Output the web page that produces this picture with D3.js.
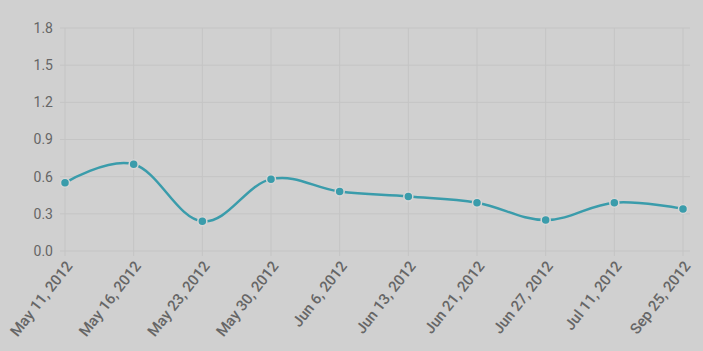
<!DOCTYPE html>
<html>
<head>
<meta charset="utf-8">
<script src="https://cdn.jsdelivr.net/npm/d3@7"></script>
<style>
body{margin:0;background:#d0d0d0;}
svg{display:block;}
</style>
</head>
<body>
<div id="chart"></div>
<script>
var labels = ["May 11, 2012","May 16, 2012","May 23, 2012","May 30, 2012","Jun 6, 2012","Jun 13, 2012","Jun 21, 2012","Jun 27, 2012","Jul 11, 2012","Sep 25, 2012"];
var values = [0.55, 0.70, 0.24, 0.58, 0.48, 0.44, 0.39, 0.25, 0.39, 0.34];
var yTicks = [0, 0.3, 0.6, 0.9, 1.2, 1.5, 1.8];

var width = 703, height = 351;
var svg = d3.select("#chart").append("svg")
	.attr("width", width)
	.attr("height", height);

svg.append("rect").attr("width", width).attr("height", height).attr("fill", "#d0d0d0");

var x = d3.scalePoint()
	.domain(labels)
	.range([65, 683]);
var y = d3.scaleLinear()
	.domain([0, 1.8])
	.range([251, 28]);

var grid = "#c4c4c4";

// horizontal grid
svg.selectAll("line.hg").data(yTicks).enter()
	.append("line")
	.attr("x1", 60).attr("x2", 690)
	.attr("y1", function(d){ return y(d); })
	.attr("y2", function(d){ return y(d); })
	.attr("stroke", grid).attr("stroke-width", 1);

// vertical grid
svg.selectAll("line.vg").data(labels).enter()
	.append("line")
	.attr("x1", function(d){ return x(d); })
	.attr("x2", function(d){ return x(d); })
	.attr("y1", 28).attr("y2", 256)
	.attr("stroke", grid).attr("stroke-width", 1);

// y labels
svg.selectAll("text.yl").data(yTicks).enter()
	.append("text")
	.attr("x", 53)
	.attr("y", function(d){ return y(d); })
	.attr("dy", "0.35em")
	.attr("text-anchor", "end")
	.attr("font-family", "Roboto, sans-serif")
	.attr("font-size", 14)
	.attr("fill", "#666")
	.text(function(d){ return d.toFixed(1); });

// x labels
svg.selectAll("text.xl").data(labels).enter()
	.append("text")
	.attr("transform", function(d){ return "translate(" + (x(d) + 4) + ",263) rotate(-52)"; })
	.attr("text-anchor", "end")
	.attr("dy", "0.35em")
	.attr("font-family", "Roboto, sans-serif")
	.attr("font-size", 15)
	.attr("font-weight", 500)
	.attr("fill", "#666")
	.text(function(d){ return d; });

var line = d3.line()
	.x(function(d, i){ return x(labels[i]); })
	.y(function(d){ return y(d); })
	.curve(d3.curveCardinal.tension(-0.1));

svg.append("path")
	.datum(values)
	.attr("d", line)
	.attr("fill", "none")
	.attr("stroke", "#3a9cab")
	.attr("stroke-width", 2.5);

svg.selectAll("circle").data(values).enter()
	.append("circle")
	.attr("cx", function(d, i){ return x(labels[i]); })
	.attr("cy", function(d){ return y(d); })
	.attr("r", 4.5)
	.attr("fill", "#3a9cab")
	.attr("stroke", "#d6d6d6")
	.attr("stroke-width", 1.5);
</script>
</body>
</html>
